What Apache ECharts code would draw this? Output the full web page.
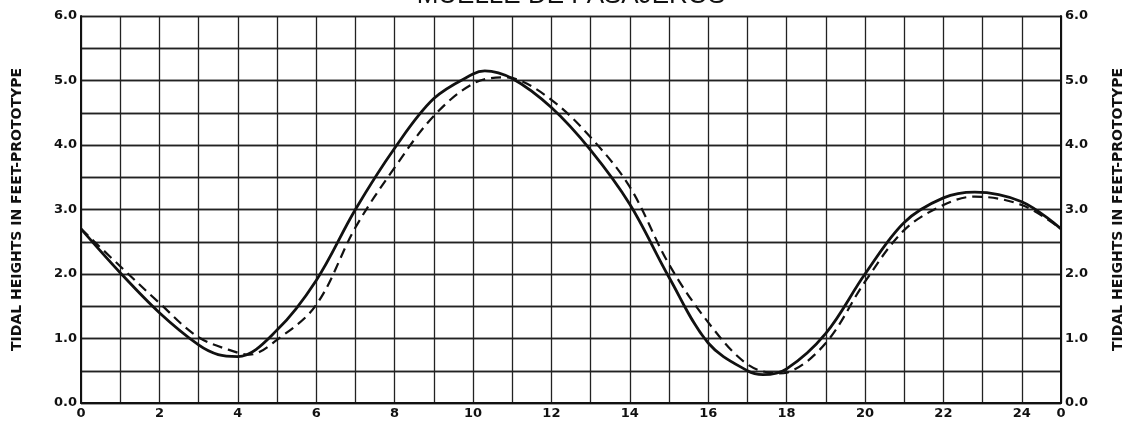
<!DOCTYPE html>
<html>
<head>
<meta charset="utf-8">
<script src="https://cdn.jsdelivr.net/npm/echarts@6/dist/echarts.min.js"></script>
<style>
  html, body { margin: 0; padding: 0; background: #fff; }
  #chart { width: 1133px; height: 422px; }
</style>
</head>
<body>
<div id="chart"></div>
<script>
// datos (horas, pies)
var solidHours = [0, 1, 2, 3, 3.5, 4, 5, 6, 7, 8, 9, 10, 10.3, 11, 12, 13, 14, 15, 16, 17, 17.4, 18, 19, 20, 21, 22, 22.8, 24, 25];
var solidTide = [2.70, 2.02, 1.40, 0.90, 0.75, 0.72, 1.13, 1.90, 3.00, 3.95, 4.72, 5.10, 5.15, 5.03, 4.58, 3.92, 3.08, 1.95, 0.93, 0.50, 0.44, 0.53, 1.08, 2.00, 2.80, 3.18, 3.27, 3.12, 2.70];
var dashHours = [0, 1, 2, 3, 4, 4.3, 5, 6, 7, 8, 9, 10, 10.8, 11, 12, 13, 14, 15, 16, 17, 17.8, 18, 19, 20, 21, 22, 22.8, 24, 25];
var dashTide = [2.70, 2.12, 1.55, 1.02, 0.78, 0.75, 0.98, 1.52, 2.72, 3.65, 4.45, 4.95, 5.05, 5.04, 4.70, 4.12, 3.35, 2.15, 1.25, 0.60, 0.46, 0.47, 0.93, 1.88, 2.68, 3.07, 3.20, 3.07, 2.70];

var title = 'MUELLE DE PASAJEROS';
var axisName = 'TIDAL HEIGHTS IN FEET-PROTOTYPE';
var ink = '#111';
var labelFont = 'DejaVu Sans';

function pairs(xs, ys) {
    var out = [];
    for (var i = 0; i < xs.length; i++) {
        out.push([xs[i], ys[i]]);
    }
    return out;
}

function yAxisDef(pos, gap) {
    return {
        type: 'value',
        position: pos,
        min: 0,
        max: 6,
        interval: 0.5,
        name: axisName,
        nameLocation: 'middle',
        nameRotate: 90,
        nameGap: gap,
        nameTextStyle: {
            color: ink,
            fontFamily: labelFont,
            fontWeight: 'bold',
            fontSize: 14
        },
        axisLine: { show: true, lineStyle: { color: ink, width: 2 } },
        axisTick: { show: false },
        splitLine: { show: true, lineStyle: { color: '#222', width: 1.3 } },
        axisLabel: {
            color: ink,
            fontFamily: labelFont,
            fontWeight: 'bold',
            fontSize: 13,
            margin: 4,
            formatter: function (v) {
                return Math.abs(v - Math.round(v)) < 1e-6 ? v.toFixed(1) : '';
            }
        }
    };
}

var dom = echarts.init(document.getElementById('chart'));
var option = {
    backgroundColor: '#fff',
    animation: false,
    graphic: [{
        type: 'text',
        x: 571,
        y: 9,
        style: {
            text: title,
            fill: ink,
            font: '26px "Liberation Sans"',
            textAlign: 'center',
            textVerticalAlign: 'bottom'
        }
    }],
    grid: {
        left: 81,
        right: 70,
        top: 16,
        bottom: 19
    },
    xAxis: {
        type: 'value',
        min: 0,
        max: 25,
        interval: 1,
        axisLine: { show: true, lineStyle: { color: ink, width: 2 } },
        axisTick: { show: false },
        splitLine: { show: true, lineStyle: { color: '#222', width: 1.3 } },
        axisLabel: {
            color: ink,
            fontFamily: labelFont,
            fontWeight: 'bold',
            fontSize: 13,
            margin: 4,
            showMaxLabel: true,
            formatter: function (v) {
                if (v === 25) return '0';
                return v % 2 === 0 ? String(v) : '';
            }
        }
    },
    yAxis: [yAxisDef('left', 57), yAxisDef('right', 50)],
    series: [{
        name: 'solid',
        type: 'line',
        smooth: 0.35,
        showSymbol: false,
        lineStyle: { color: ink, width: 2.8 },
        data: pairs(solidHours, solidTide)
    }, {
        name: 'dashed',
        type: 'line',
        smooth: 0.35,
        showSymbol: false,
        lineStyle: { color: ink, width: 2.2, type: [10, 6] },
        data: pairs(dashHours, dashTide)
    }]
};
dom.setOption(option);
</script>
</body>
</html>
